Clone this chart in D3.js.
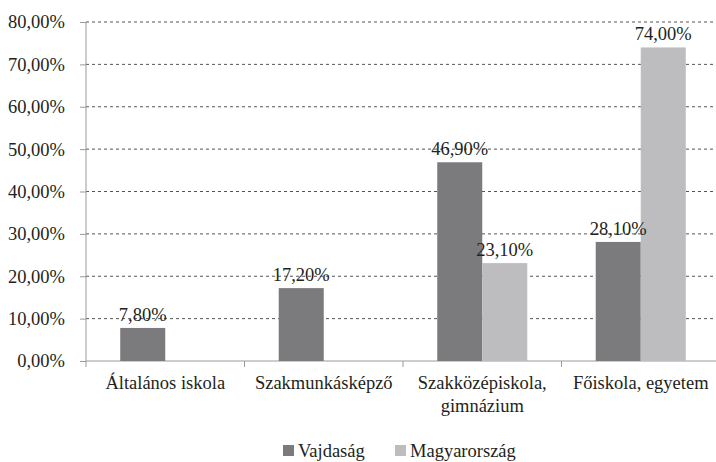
<!DOCTYPE html>
<html>
<head>
<meta charset="utf-8">
<script src="https://cdn.jsdelivr.net/npm/d3@7"></script>
<style>
  body { margin: 0; background: #fff; }
  svg text { font-family: "Liberation Serif", "Times New Roman", "DejaVu Serif", serif !important; fill: #231f20; }
  .grid line { stroke: #555; stroke-dasharray: 3,3; }
</style>
</head>
<body>
<div id="chart"></div>
<script>
// chart data
var categories = ["Általános iskola", "Szakmunkásképző", "Szakközépiskola,\ngimnázium", "Főiskola, egyetem"];
var seriesNames = ["Vajdaság", "Magyarország"];
var vajdasag = [0.078, 0.172, 0.469, 0.281];
var magyarorszag = [null, null, 0.231, 0.74];
var yTicks = [0, 0.1, 0.2, 0.3, 0.4, 0.5, 0.6, 0.7, 0.8];
var colors = ["#7b7b7e", "#bdbdc0"];

var W = 716, H = 462;
var margin = {top: 22, right: -4, bottom: 101, left: 86};
var fontSize = "18.5px";

var huLocale = d3.formatLocale({decimal: ",", thousands: " ", grouping: [3], currency: ["", ""]});
var pct = huLocale.format(".2%");

var svg = d3.select("#chart").append("svg")
    .attr("width", W)
    .attr("height", H);

// scales
var x0 = d3.scaleBand()
    .domain(categories)
    .range([margin.left, W - margin.right])
    .paddingInner(0)
    .paddingOuter(0);

var x1 = d3.scaleBand()
    .domain(seriesNames)
    .range([0, x0.bandwidth()])
    .paddingInner(0)
    .paddingOuter(0.76);

var y = d3.scaleLinear()
    .domain([0, 0.8])
    .range([H - margin.bottom, margin.top]);

// dashed grid lines
svg.append("g")
    .attr("class", "grid")
    .selectAll("line")
    .data(yTicks.filter(function (d) { return d > 0; }))
    .enter()
    .append("line")
    .attr("x1", margin.left)
    .attr("x2", W)
    .attr("y1", function (d) { return y(d); })
    .attr("y2", function (d) { return y(d); });

// y axis
var yAxis = svg.append("g")
    .attr("transform", "translate(" + margin.left + ",0)")
    .call(d3.axisLeft(y).tickValues(yTicks).tickFormat(pct).tickSize(6).tickPadding(15));
yAxis.attr("font-family", null).attr("font-size", null);
yAxis.select(".domain").attr("stroke", "#9a9a9a").attr("d", "M0," + y(0.8) + "V" + y(0));
yAxis.selectAll(".tick line").attr("stroke", "#9a9a9a");
yAxis.selectAll("text").style("font-size", fontSize);

// x axis
var xAxis = svg.append("g")
    .attr("transform", "translate(0," + y(0) + ")")
    .call(d3.axisBottom(x0).tickSize(0).tickFormat(""));
xAxis.select(".domain").attr("stroke", "#9a9a9a").attr("d", "M" + margin.left + ",0H" + W);
xAxis.selectAll(".tick").remove();

// category boundary ticks
var bounds = categories.map(function (c) { return x0(c); });
bounds.push(x0(categories[categories.length - 1]) + x0.bandwidth());
svg.append("g").selectAll("line")
    .data(bounds)
    .enter()
    .append("line")
    .attr("x1", function (d) { return d; })
    .attr("x2", function (d) { return d; })
    .attr("y1", y(0))
    .attr("y2", y(0) + 6)
    .attr("stroke", "#9a9a9a");

// category labels (multi-line)
svg.append("g").selectAll("text")
    .data(categories)
    .enter()
    .append("text")
    .attr("x", function (d) { return x0(d) + x0.bandwidth() / 2; })
    .attr("y", y(0) + 28)
    .attr("text-anchor", "middle")
    .style("font-size", fontSize)
    .each(function (d) {
        var lines = d.split("\n");
        var t = d3.select(this);
        lines.forEach(function (l, i) {
            t.append("tspan")
                .attr("x", x0(d) + x0.bandwidth() / 2)
                .attr("dy", i === 0 ? 0 : 23)
                .text(l);
        });
    });

// bars
var rows = categories.map(function (c, i) {
    return {cat: c, values: [
        {name: seriesNames[0], value: vajdasag[i], color: colors[0]},
        {name: seriesNames[1], value: magyarorszag[i], color: colors[1]}
    ].filter(function (v) { return v.value != null; })};
});

var groups = svg.append("g").selectAll("g")
    .data(rows)
    .enter()
    .append("g")
    .attr("transform", function (d) { return "translate(" + x0(d.cat) + ",0)"; });

groups.selectAll("rect")
    .data(function (d) { return d.values; })
    .enter()
    .append("rect")
    .attr("x", function (d) { return x1(d.name); })
    .attr("width", x1.bandwidth())
    .attr("y", function (d) { return y(d.value); })
    .attr("height", function (d) { return y(0) - y(d.value); })
    .attr("fill", function (d) { return d.color; });

// value labels
groups.selectAll("text")
    .data(function (d) { return d.values; })
    .enter()
    .append("text")
    .attr("x", function (d) { return x1(d.name) + x1.bandwidth() / 2; })
    .attr("y", function (d) { return y(d.value) - 7; })
    .attr("text-anchor", "middle")
    .style("font-size", fontSize)
    .text(function (d) { return pct(d.value); });

// legend
var legend = svg.append("g").attr("transform", "translate(0," + 451 + ")");
var legendX = [283, 395];
seriesNames.forEach(function (name, i) {
    legend.append("rect")
        .attr("x", legendX[i])
        .attr("y", -6)
        .attr("width", 11)
        .attr("height", 11)
        .attr("fill", colors[i]);
    legend.append("text")
        .attr("x", legendX[i] + 15)
        .attr("y", 6)
        .style("font-size", fontSize)
        .text(name);
});
</script>
</body>
</html>
